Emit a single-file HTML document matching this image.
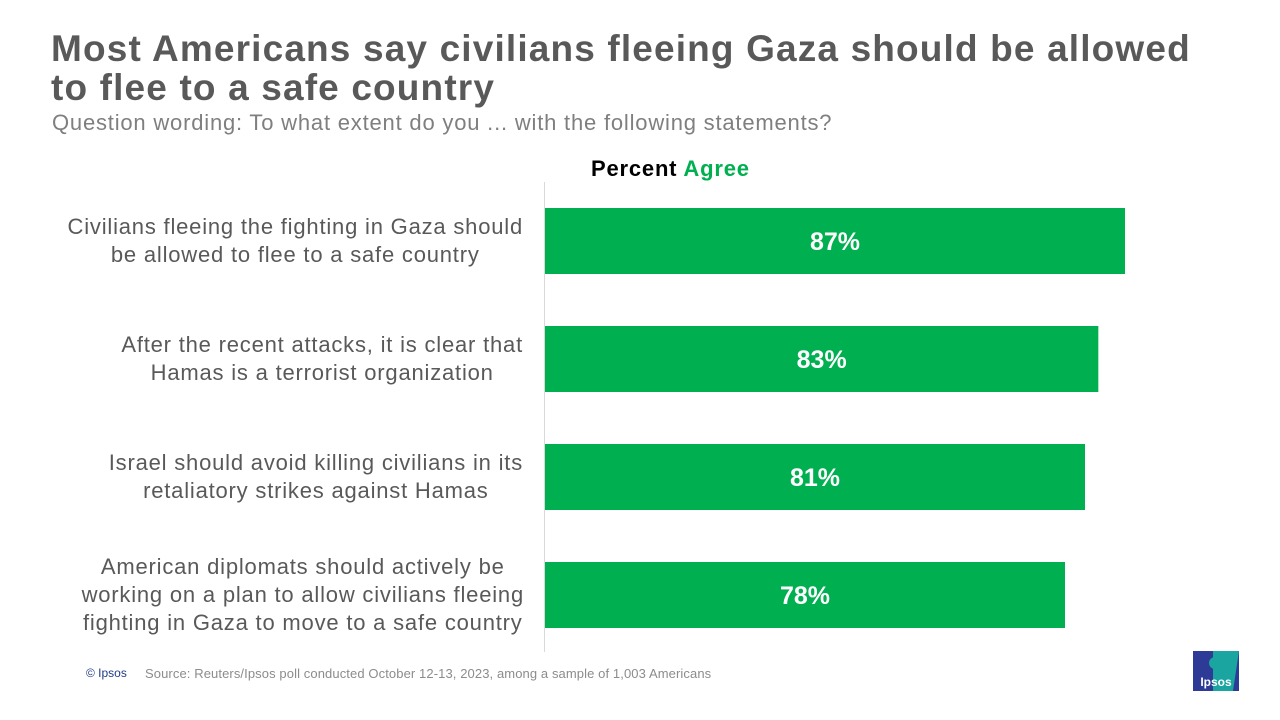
<!DOCTYPE html>
<html><head><meta charset="utf-8"><style>
body{margin:0;width:1280px;height:720px;background:#fff;font-family:"Liberation Sans",sans-serif;position:relative;overflow:hidden}
.t{position:absolute;left:51px;top:29px;font-size:37px;font-weight:bold;color:#595959;line-height:39px;letter-spacing:1.15px;white-space:nowrap}
.s{position:absolute;left:52px;top:110px;font-size:22px;color:#7f7f7f;letter-spacing:0.8px;white-space:nowrap}
.lab{position:absolute;right:757px;text-align:center;font-size:22px;color:#595959;line-height:28px;letter-spacing:0.8px;white-space:nowrap}
</style></head><body>
<div class="t">Most Americans say civilians fleeing Gaza should be allowed<br>to flee to a safe country</div>
<div class="s">Question wording: To what extent do you ... with the following statements?</div>
<div style="position:absolute;left:591px;top:156px;font-size:22px;font-weight:bold;color:#000;letter-spacing:0.8px">Percent <span style="color:#00b050">Agree</span></div>
<div class="lab" style="top:213px">Civilians fleeing the fighting in Gaza should<br>be allowed to flee to a safe country</div>
<div class="lab" style="top:331px">After the recent attacks, it is clear that<br>Hamas is a terrorist organization</div>
<div class="lab" style="top:449px">Israel should avoid killing civilians in its<br>retaliatory strikes against Hamas</div>
<div class="lab" style="top:553px;right:756px">American diplomats should actively be<br>working on a plan to allow civilians fleeing<br>fighting in Gaza to move to a safe country</div>
<svg id="c" width="1280" height="720" style="position:absolute;left:0;top:0">
<line x1="544.5" y1="182" x2="544.5" y2="652" stroke="#d9d9d9" stroke-width="1"/>
</svg>
<div style="position:absolute;left:86px;top:666px;font-size:12px;color:#1f3c88">© Ipsos</div>
<div style="position:absolute;left:145px;top:666px;font-size:13px;color:#8c8c8c;letter-spacing:0.1px">Source: Reuters/Ipsos poll conducted October 12-13, 2023, among a sample of 1,003 Americans</div>
<svg width="46" height="40" style="position:absolute;left:1193px;top:651px">
<rect x="0" y="0" width="46" height="40" fill="#2d3a96"/>
<path d="M20 0 H46 L40 40 H20 Z" fill="#1aa5a0"/>
<circle cx="22" cy="12" r="6" fill="#1aa5a0"/>
<text x="23" y="35" text-anchor="middle" font-size="12" font-weight="bold" fill="#fff" font-family="Liberation Sans">Ipsos</text>
</svg>
<script>
const categories=["civilians-flee","hamas-terrorist","israel-avoid","diplomats"];
const values=[87,83,81,78];
const valueLabels=["87%","83%","81%","78%"];
const svg=document.getElementById('c');
const NS='http://www.w3.org/2000/svg';
const x0=545, pxPerPt=580/87;
const xs=v=>x0+v*pxPerPt;
const yTop=i=>208+i*118;
const bh=66;
values.forEach((v,i)=>{
 const r=document.createElementNS(NS,'rect');
 r.setAttribute('x',x0);r.setAttribute('y',yTop(i));
 r.setAttribute('width',xs(v)-x0);r.setAttribute('height',bh);
 r.setAttribute('fill','#00b050');
 
 
 svg.appendChild(r);
 const t=document.createElementNS(NS,'text');
 t.setAttribute('x',(x0+xs(v))/2);t.setAttribute('y',yTop(i)+bh/2+9);
 t.setAttribute('text-anchor','middle');t.setAttribute('font-size','25');
 t.setAttribute('font-weight','bold');t.setAttribute('fill','#fff');
 t.setAttribute('font-family','Liberation Sans, sans-serif');
 t.textContent=valueLabels[i];
 
 
 svg.appendChild(t);
});
</script>
</body></html>
